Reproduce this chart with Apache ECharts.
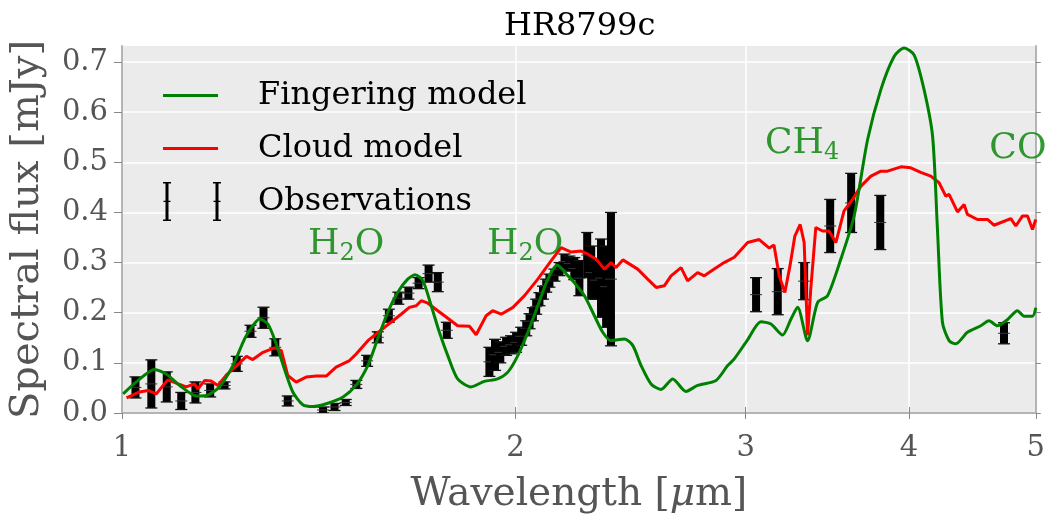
<!DOCTYPE html>
<html><head><meta charset="utf-8">
<script src="https://cdn.jsdelivr.net/npm/echarts@6/dist/echarts.min.js"></script>
<style>html,body{margin:0;padding:0;background:#fff}#c{width:1048px;height:519px}</style>
</head><body><div id="c"></div>
<script>
const xTicks = [1, 2, 3, 4, 5];
const yTicks = [0, 0.1, 0.2, 0.3, 0.4, 0.5, 0.6, 0.7];

// [wavelength (um), flux (mJy)]
const fingeringModel = [
 [1.002,.038],[1.0255,.062],[1.059,.087],[1.081,.078],[1.107,.055],[1.140,.034],[1.160,.035],[1.187,.052],
 [1.216,.095],[1.241,.148],[1.259,.174],[1.274,.1875],[1.293,.1775],[1.312,.138],[1.331,.088],[1.351,.042],
 [1.375,.0165],[1.400,.013],[1.433,.0185],[1.476,.032],[1.511,.056],[1.542,.095],[1.569,.148],[1.597,.201],
 [1.625,.2405],[1.654,.267],[1.676,.2756],[1.699,.2636],[1.724,.214],[1.749,.161],[1.775,.1145],[1.806,.068],
 [1.849,.052],[1.893,.063],[1.938,.068],[1.973,.0815],[2.008,.1145],[2.044,.161],[2.080,.214],[2.117,.267],
 [2.152,.295],[2.193,.274],[2.218,.260],[2.258,.234],[2.298,.194],[2.332,.161],[2.366,.1443],[2.423,.1477],
 [2.459,.1344],[2.495,.0946],[2.539,.058],[2.584,.047],[2.638,.068],[2.700,.043],[2.756,.055],[2.847,.065],
 [2.906,.0946],[2.940,.108],[3.010,.146],[3.081,.182],[3.136,.1775],[3.201,.1557],[3.249,.1875],[3.287,.2107],
 [3.345,.1443],[3.405,.2207],[3.465,.234],[3.547,.307],[3.631,.393],[3.718,.545],[3.806,.645],[3.896,.711],
 [3.965,.728],[4.036,.714],[4.107,.645],[4.169,.552],[4.205,.366],[4.242,.181],[4.292,.1443],[4.343,.138],
 [4.433,.161],[4.538,.174],[4.604,.184],[4.673,.174],[4.756,.186],[4.841,.204],[4.898,.193],[4.971,.193],[5.0,.21]
];

const cloudModel = [
 [1.008,.030],[1.0315,.042],[1.047,.045],[1.062,.038],[1.084,.066],[1.104,.058],[1.120,.052],[1.136,.058],
 [1.143,.048],[1.157,.065],[1.170,.0636],[1.184,.055],[1.202,.076],[1.223,.0934],[1.245,.113],[1.259,.1066],
 [1.282,.121],[1.308,.130],[1.324,.1245],[1.339,.0748],[1.359,.0616],[1.383,.0716],[1.408,.0736],[1.433,.0736],
 [1.458,.0915],[1.493,.1046],[1.511,.118],[1.542,.1443],[1.588,.171],[1.635,.197],[1.659,.2107],[1.679,.214],
 [1.694,.224],[1.714,.219],[1.744,.204],[1.775,.189],[1.806,.174],[1.844,.173],[1.866,.156],[1.899,.194],
 [1.921,.204],[1.950,.197],[1.991,.2107],[2.032,.234],[2.080,.267],[2.129,.3034],[2.167,.330],[2.206,.321],
 [2.245,.323],[2.272,.3167],[2.305,.3068],[2.339,.287],[2.366,.300],[2.387,.290],[2.416,.3054],[2.480,.287],
 [2.524,.267],[2.562,.2505],[2.599,.2537],[2.630,.2736],[2.677,.290],[2.708,.2636],[2.756,.280],[2.789,.2736],
 [2.838,.287],[2.888,.300],[2.940,.3107],[3.010,.340],[3.072,.346],[3.127,.329],[3.153,.335],[3.182,.2736],
 [3.214,.2405],[3.243,.2934],[3.271,.353],[3.302,.376],[3.325,.340],[3.345,.155],[3.364,.247],[3.394,.370],
 [3.434,.363],[3.474,.363],[3.516,.340],[3.567,.403],[3.621,.426],[3.675,.4525],[3.740,.4724],[3.806,.4823],
 [3.851,.4823],[3.943,.491],[4.012,.489],[4.083,.480],[4.156,.4724],[4.217,.4592],[4.267,.4326],[4.292,.436],
 [4.356,.401],[4.407,.416],[4.433,.396],[4.511,.386],[4.592,.386],[4.645,.3745],[4.785,.3877],[4.827,.373],
 [4.885,.393],[4.928,.393],[4.971,.366],[5.0,.386]
];

// [wavelength (um), flux (mJy), error (mJy)]
const observations = [
 [1.024,.051,.021],[1.053,.058,.048],[1.082,.052,.030],[1.110,.024,.017],[1.138,.041,.021],[1.168,.045,.013],
 [1.198,.055,.007],[1.224,.098,.015],[1.254,.163,.012],[1.283,.190,.021],[1.310,.131,.017],[1.339,.024,.010],
 [1.425,.006,.006],[1.454,.012,.007],[1.483,.021,.006],[1.511,.057,.008],[1.540,.104,.011],[1.569,.151,.011],
 [1.600,.194,.013],[1.627,.229,.012],[1.656,.239,.012],[1.686,.259,.011],[1.716,.278,.017],[1.744,.261,.019],
 [1.772,.165,.016],
 [1.910,.102,.029],[1.929,.116,.031],[1.947,.121,.021],[1.967,.133,.018],[1.984,.136,.018],[2.002,.141,.020],
 [2.020,.153,.018],[2.038,.169,.015],[2.050,.183,.015],[2.062,.197,.013],[2.074,.212,.015],[2.086,.227,.013],
 [2.099,.240,.013],[2.111,.254,.013],[2.123,.264,.013],[2.142,.275,.012],[2.161,.287,.013],[2.180,.302,.015],
 [2.199,.298,.015],[2.218,.288,.022],[2.238,.269,.035],[2.269,.315,.045],[2.285,.280,.053],[2.305,.265,.038],
 [2.325,.269,.078],[2.346,.252,.081],[2.366,.267,.133],
 [3.055,.236,.034],[3.174,.242,.046],[3.325,.263,.037],[3.481,.373,.053],[3.612,.419,.059],[3.802,.380,.054],
 [4.728,.159,.021]
];

// molecule labels: [wavelength, flux, main text, subscript, trailing text]
const annotations = [
 [1.484, 0.336, 'H', '2', 'O'],
 [2.034, 0.335, 'H', '2', 'O'],
 [3.313, 0.537, 'CH', '4', ''],
 [4.845, 0.527, 'CO', '', '']
];

const GREEN = '#008000', RED = '#ff0000';
const SERIF = 'DejaVu Serif';
const axisGray = '#b4b4b4';

const lineIcon = 'path://M0,0h0.1v0.1h-0.1z M0,18h55v3h-55z M89.9,38.9h0.1v0.1h-0.1z';
const barIcon = 'path://M0,0h0.1v0.1h-0.1z ' +
  'M0,0h8v1.5h-8z M2.5,0h3v39h-3z M0,37.5h8v1.5h-8z M0.5,18.8h7v1.3h-7z ' +
  'M50,0h8v1.5h-8z M52.5,0h3v39h-3z M50,37.5h8v1.5h-8z M50.5,18.8h7v1.3h-7z ' +
  'M89.9,38.9h0.1v0.1h-0.1z';

const chart = echarts.init(document.getElementById('c'), null, {renderer: 'canvas'});

chart.setOption({
  animation: false,
  backgroundColor: '#ffffff',
  title: {
    text: 'HR8799c', left: 499, top: 6,
    textStyle: {fontFamily: SERIF, fontSize: 32, fontWeight: 'normal', color: '#000'}
  },
  legend: {
    orient: 'vertical', left: 158, top: 71, itemWidth: 90, itemHeight: 39, itemGap: 14,
    textStyle: {fontFamily: SERIF, fontSize: 32, color: '#000'},
    data: [
      {name: 'Fingering model', icon: lineIcon, itemStyle: {color: GREEN, borderWidth: 0}},
      {name: 'Cloud model', icon: lineIcon, itemStyle: {color: RED, borderWidth: 0}},
      {name: 'Observations', icon: barIcon, itemStyle: {color: '#000', borderWidth: 0}}
    ],
    selectedMode: false
  },
  grid: {left: 121, right: 11, top: 46, bottom: 105, show: true, backgroundColor: '#ebebeb', borderWidth: 0},
  xAxis: [{
    type: 'log', logBase: 10, min: 1, max: 5, position: 'bottom',
    axisLine: {show: true, lineStyle: {color: axisGray, width: 2}},
    axisTick: {show: true, inside: false, length: 6, customValues: xTicks, lineStyle: {color: '#888', width: 1}},
    axisLabel: {customValues: xTicks, margin: 21, fontFamily: SERIF, fontSize: 29, color: '#555',
      formatter: v => String(Math.round(v))},
    splitLine: {show: true, lineStyle: {color: '#ffffff', width: 1.5}},
    name: 'Wavelength [{i|\u03bc}m]', nameLocation: 'middle', nameGap: 62,
    nameTextStyle: {fontFamily: SERIF, fontSize: 39, color: '#555',
      rich: {i: {fontFamily: SERIF, fontSize: 39, fontStyle: 'italic', color: '#555'}}}
  }, {
    type: 'log', logBase: 10, min: 1, max: 5, position: 'top',
    axisLine: {show: true, lineStyle: {color: axisGray, width: 2}},
    axisTick: {show: true, inside: false, length: 6, customValues: [2, 3, 4], lineStyle: {color: '#888', width: 1}},
    axisLabel: {show: false}, splitLine: {show: false}
  }],
  yAxis: [{
    type: 'value', min: 0, max: 0.732, interval: 0.1, position: 'left',
    axisLine: {show: true, lineStyle: {color: axisGray, width: 2}},
    axisTick: {show: true, inside: false, length: 8, customValues: yTicks, lineStyle: {color: '#888', width: 1}},
    axisLabel: {customValues: yTicks, margin: 14, fontFamily: SERIF, fontSize: 29, color: '#555',
      formatter: v => v.toFixed(1)},
    splitLine: {show: true, lineStyle: {color: '#ffffff', width: 1.5}},
    name: 'Spectral flux [mJy]', nameLocation: 'middle', nameGap: 74,
    nameTextStyle: {fontFamily: SERIF, fontSize: 40, color: '#555'}
  }, {
    type: 'value', min: 0, max: 0.732, interval: 0.1, position: 'right',
    axisLine: {show: true, lineStyle: {color: axisGray, width: 2}},
    axisTick: {show: true, inside: false, length: 5, customValues: yTicks, lineStyle: {color: '#888', width: 1}},
    axisLabel: {show: false}, splitLine: {show: false}
  }],
  series: [
    {
      type: 'custom', name: 'Observations', data: observations, clip: true, z: 2,
      encode: {x: 0, y: 1}, itemStyle: {color: '#000'},
      renderItem: (params, api) => {
        const x = api.value(0), y = api.value(1), e = api.value(2);
        const top = api.coord([x, y + e]), bot = api.coord([x, y - e]), mid = api.coord([x, y]);
        const cx = mid[0];
        return {type: 'group', children: [
          {type: 'rect', shape: {x: cx - 4, y: top[1], width: 8, height: Math.max(bot[1] - top[1], 2)}, style: {fill: '#000'}},
          {type: 'line', shape: {x1: cx - 6, y1: top[1], x2: cx + 6, y2: top[1]}, style: {stroke: '#111', lineWidth: 1.3}},
          {type: 'line', shape: {x1: cx - 6, y1: bot[1], x2: cx + 6, y2: bot[1]}, style: {stroke: '#111', lineWidth: 1.3}},
          {type: 'line', shape: {x1: cx - 6, y1: mid[1], x2: cx + 6, y2: mid[1]}, style: {stroke: '#333', lineWidth: 1}}
        ]};
      }
    },
    {
      type: 'line', name: 'Fingering model', data: fingeringModel, showSymbol: false, smooth: 0.25, z: 4,
      lineStyle: {color: GREEN, width: 3}, itemStyle: {color: GREEN}
    },
    {
      type: 'line', name: 'Cloud model', data: cloudModel, showSymbol: false, z: 3,
      lineStyle: {color: RED, width: 3}, itemStyle: {color: RED}
    },
    {
      type: 'scatter', name: 'labels', data: annotations, symbolSize: 0, silent: true, clip: false, z: 5,
      encode: {x: 0, y: 1},
      label: {show: true, position: 'inside',
        formatter: p => {
          const v = p.value;
          return '{a|' + v[2] + '}' + (v[3] ? '{s|' + v[3] + '}' : '') + (v[4] ? '{a|' + v[4] + '}' : '');
        },
        rich: {
          a: {fontFamily: SERIF, fontSize: 36, lineHeight: 36, color: GREEN},
          s: {fontFamily: SERIF, fontSize: 24, lineHeight: 24, padding: [18, 0, 0, 0], color: GREEN}
        }
      }
    }
  ]
});
</script>
</body></html>
